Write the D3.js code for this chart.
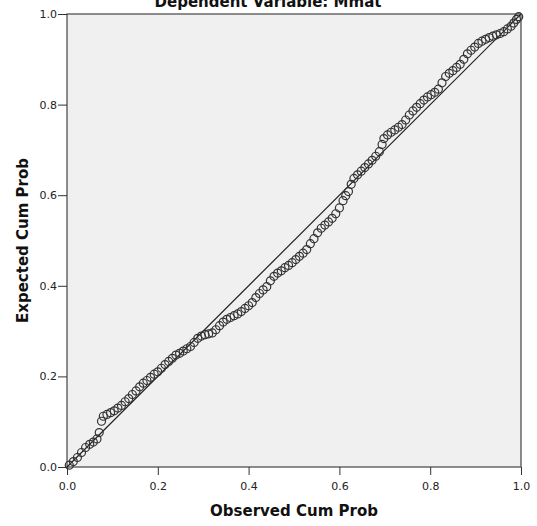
<!DOCTYPE html>
<html>
<head>
<meta charset="utf-8">
<script src="https://cdn.jsdelivr.net/npm/d3@7"></script>
<style>
  body { margin: 0; background: #fff; overflow: hidden; }
  svg { display: block; }
  .axis text { font-family: "DejaVu Sans", sans-serif; font-size: 11px; fill: #222; }
  .axis path, .axis line { stroke: #333; }
  .title { font-family: "DejaVu Sans", sans-serif; font-weight: bold; font-size: 15px; fill: #111; }
</style>
</head>
<body>
<div id="chart" style="width:537px;height:526px"></div>
<script>
// observed cumulative probability (x) and expected cumulative probability (y)
const observed = [
  0.005,0.014,0.023,0.032,0.041,0.050,0.058,0.066,0.071,0.076,0.080,0.088,0.096,0.104,0.112,0.120,
  0.128,0.136,0.144,0.152,0.160,0.168,0.176,0.184,0.192,0.200,0.208,0.216,0.224,0.232,0.240,0.248,
  0.256,0.264,0.272,0.280,0.288,0.296,0.304,0.312,0.320,0.328,0.336,0.344,0.352,0.360,0.368,0.376,
  0.384,0.392,0.400,0.408,0.416,0.424,0.432,0.440,0.448,0.456,0.464,0.472,0.480,0.488,0.496,0.504,
  0.512,0.520,0.528,0.536,0.544,0.552,0.560,0.568,0.576,0.584,0.592,0.600,0.608,0.614,0.620,0.626,
  0.632,0.640,0.648,0.656,0.664,0.672,0.680,0.688,0.694,0.698,0.706,0.714,0.722,0.730,0.738,0.746,
  0.754,0.762,0.770,0.778,0.786,0.794,0.802,0.810,0.818,0.826,0.834,0.842,0.850,0.858,0.866,0.874,
  0.882,0.890,0.898,0.906,0.914,0.922,0.930,0.938,0.946,0.954,0.962,0.970,0.978,0.984,0.990,0.995
];
const expected = [
  0.004,0.012,0.021,0.032,0.043,0.050,0.055,0.062,0.076,0.101,0.112,0.116,0.120,0.124,0.130,0.136,
  0.144,0.151,0.160,0.168,0.177,0.185,0.191,0.198,0.205,0.210,0.218,0.226,0.233,0.240,0.247,0.251,
  0.256,0.261,0.266,0.275,0.284,0.289,0.292,0.294,0.296,0.303,0.312,0.320,0.326,0.330,0.334,0.338,
  0.343,0.350,0.356,0.363,0.374,0.383,0.391,0.398,0.411,0.421,0.428,0.433,0.440,0.445,0.451,0.458,
  0.465,0.472,0.480,0.493,0.504,0.517,0.527,0.534,0.541,0.549,0.559,0.572,0.588,0.599,0.608,0.624,
  0.637,0.645,0.653,0.661,0.669,0.677,0.686,0.696,0.712,0.725,0.733,0.739,0.744,0.750,0.756,0.766,
  0.777,0.786,0.794,0.802,0.810,0.817,0.822,0.827,0.834,0.848,0.862,0.869,0.875,0.882,0.889,0.900,
  0.912,0.920,0.927,0.935,0.940,0.944,0.948,0.951,0.954,0.957,0.961,0.967,0.973,0.980,0.988,0.994
];
const ticks = [0.0, 0.2, 0.4, 0.6, 0.8, 1.0];
const titleText = "Dependent Variable: Mmat";
const xTitle = "Observed Cum Prob";
const yTitle = "Expected Cum Prob";

const rootDOM = document.getElementById('chart');
const W = rootDOM.clientWidth;
const H = rootDOM.clientHeight;
const margin = {t:14, r:16, b:59, l:67};
const innerWidth = W - margin.l - margin.r;
const innerHeight = H - margin.t - margin.b;

const scaleX = d3.scaleLinear().domain([0, 1]).range([0, innerWidth]);
const scaleY = d3.scaleLinear().domain([0, 1]).range([innerHeight, 0]);

const svg = d3.select(rootDOM).append('svg')
  .attr('width', W)
  .attr('height', H);

const plot = svg.append('g')
  .attr('transform', `translate(${margin.l}, ${margin.t})`);

// plot background
plot.append('rect')
  .attr('width', innerWidth)
  .attr('height', innerHeight)
  .style('fill', '#f0f0f0')
  .style('stroke', '#444')
  .style('stroke-width', 1.2);

// reference diagonal
plot.append('line')
  .attr('x1', scaleX(0)).attr('y1', scaleY(0))
  .attr('x2', scaleX(1)).attr('y2', scaleY(1))
  .style('stroke', '#222')
  .style('stroke-width', 1.2);

// points
plot.append('g').selectAll('circle')
  .data(observed.map((d, i) => ({x: d, y: expected[i]})))
  .join('circle')
  .attr('cx', d => scaleX(d.x))
  .attr('cy', d => scaleY(d.y))
  .attr('r', 4)
  .style('fill', 'none')
  .style('stroke', '#333')
  .style('stroke-width', 1.2);

const fmt = d3.format('.1f');
const axisX = d3.axisBottom(scaleX).tickValues(ticks).tickFormat(fmt).tickSize(8).tickSizeOuter(0);
const axisY = d3.axisLeft(scaleY).tickValues(ticks).tickFormat(fmt).tickSize(9).tickSizeOuter(0);

plot.append('g')
  .attr('class', 'axis axis-x')
  .attr('transform', `translate(0, ${innerHeight})`)
  .call(axisX)
  .call(g => g.select('.domain').remove())
  .call(g => g.selectAll('text').attr('dy', '1.05em'));

plot.append('g')
  .attr('class', 'axis axis-y')
  .call(axisY)
  .call(g => g.select('.domain').remove())
  .call(g => g.selectAll('text').attr('x', -10));

// titles
svg.append('text')
  .attr('class', 'title')
  .attr('x', 268)
  .attr('y', 7)
  .attr('text-anchor', 'middle')
  .text(titleText);

svg.append('text')
  .attr('class', 'title')
  .attr('x', margin.l + innerWidth / 2)
  .attr('y', 516)
  .attr('text-anchor', 'middle')
  .text(xTitle);

svg.append('text')
  .attr('class', 'title')
  .attr('transform', `translate(28, ${margin.t + innerHeight / 2}) rotate(-90)`)
  .attr('text-anchor', 'middle')
  .text(yTitle);
</script>
</body>
</html>
